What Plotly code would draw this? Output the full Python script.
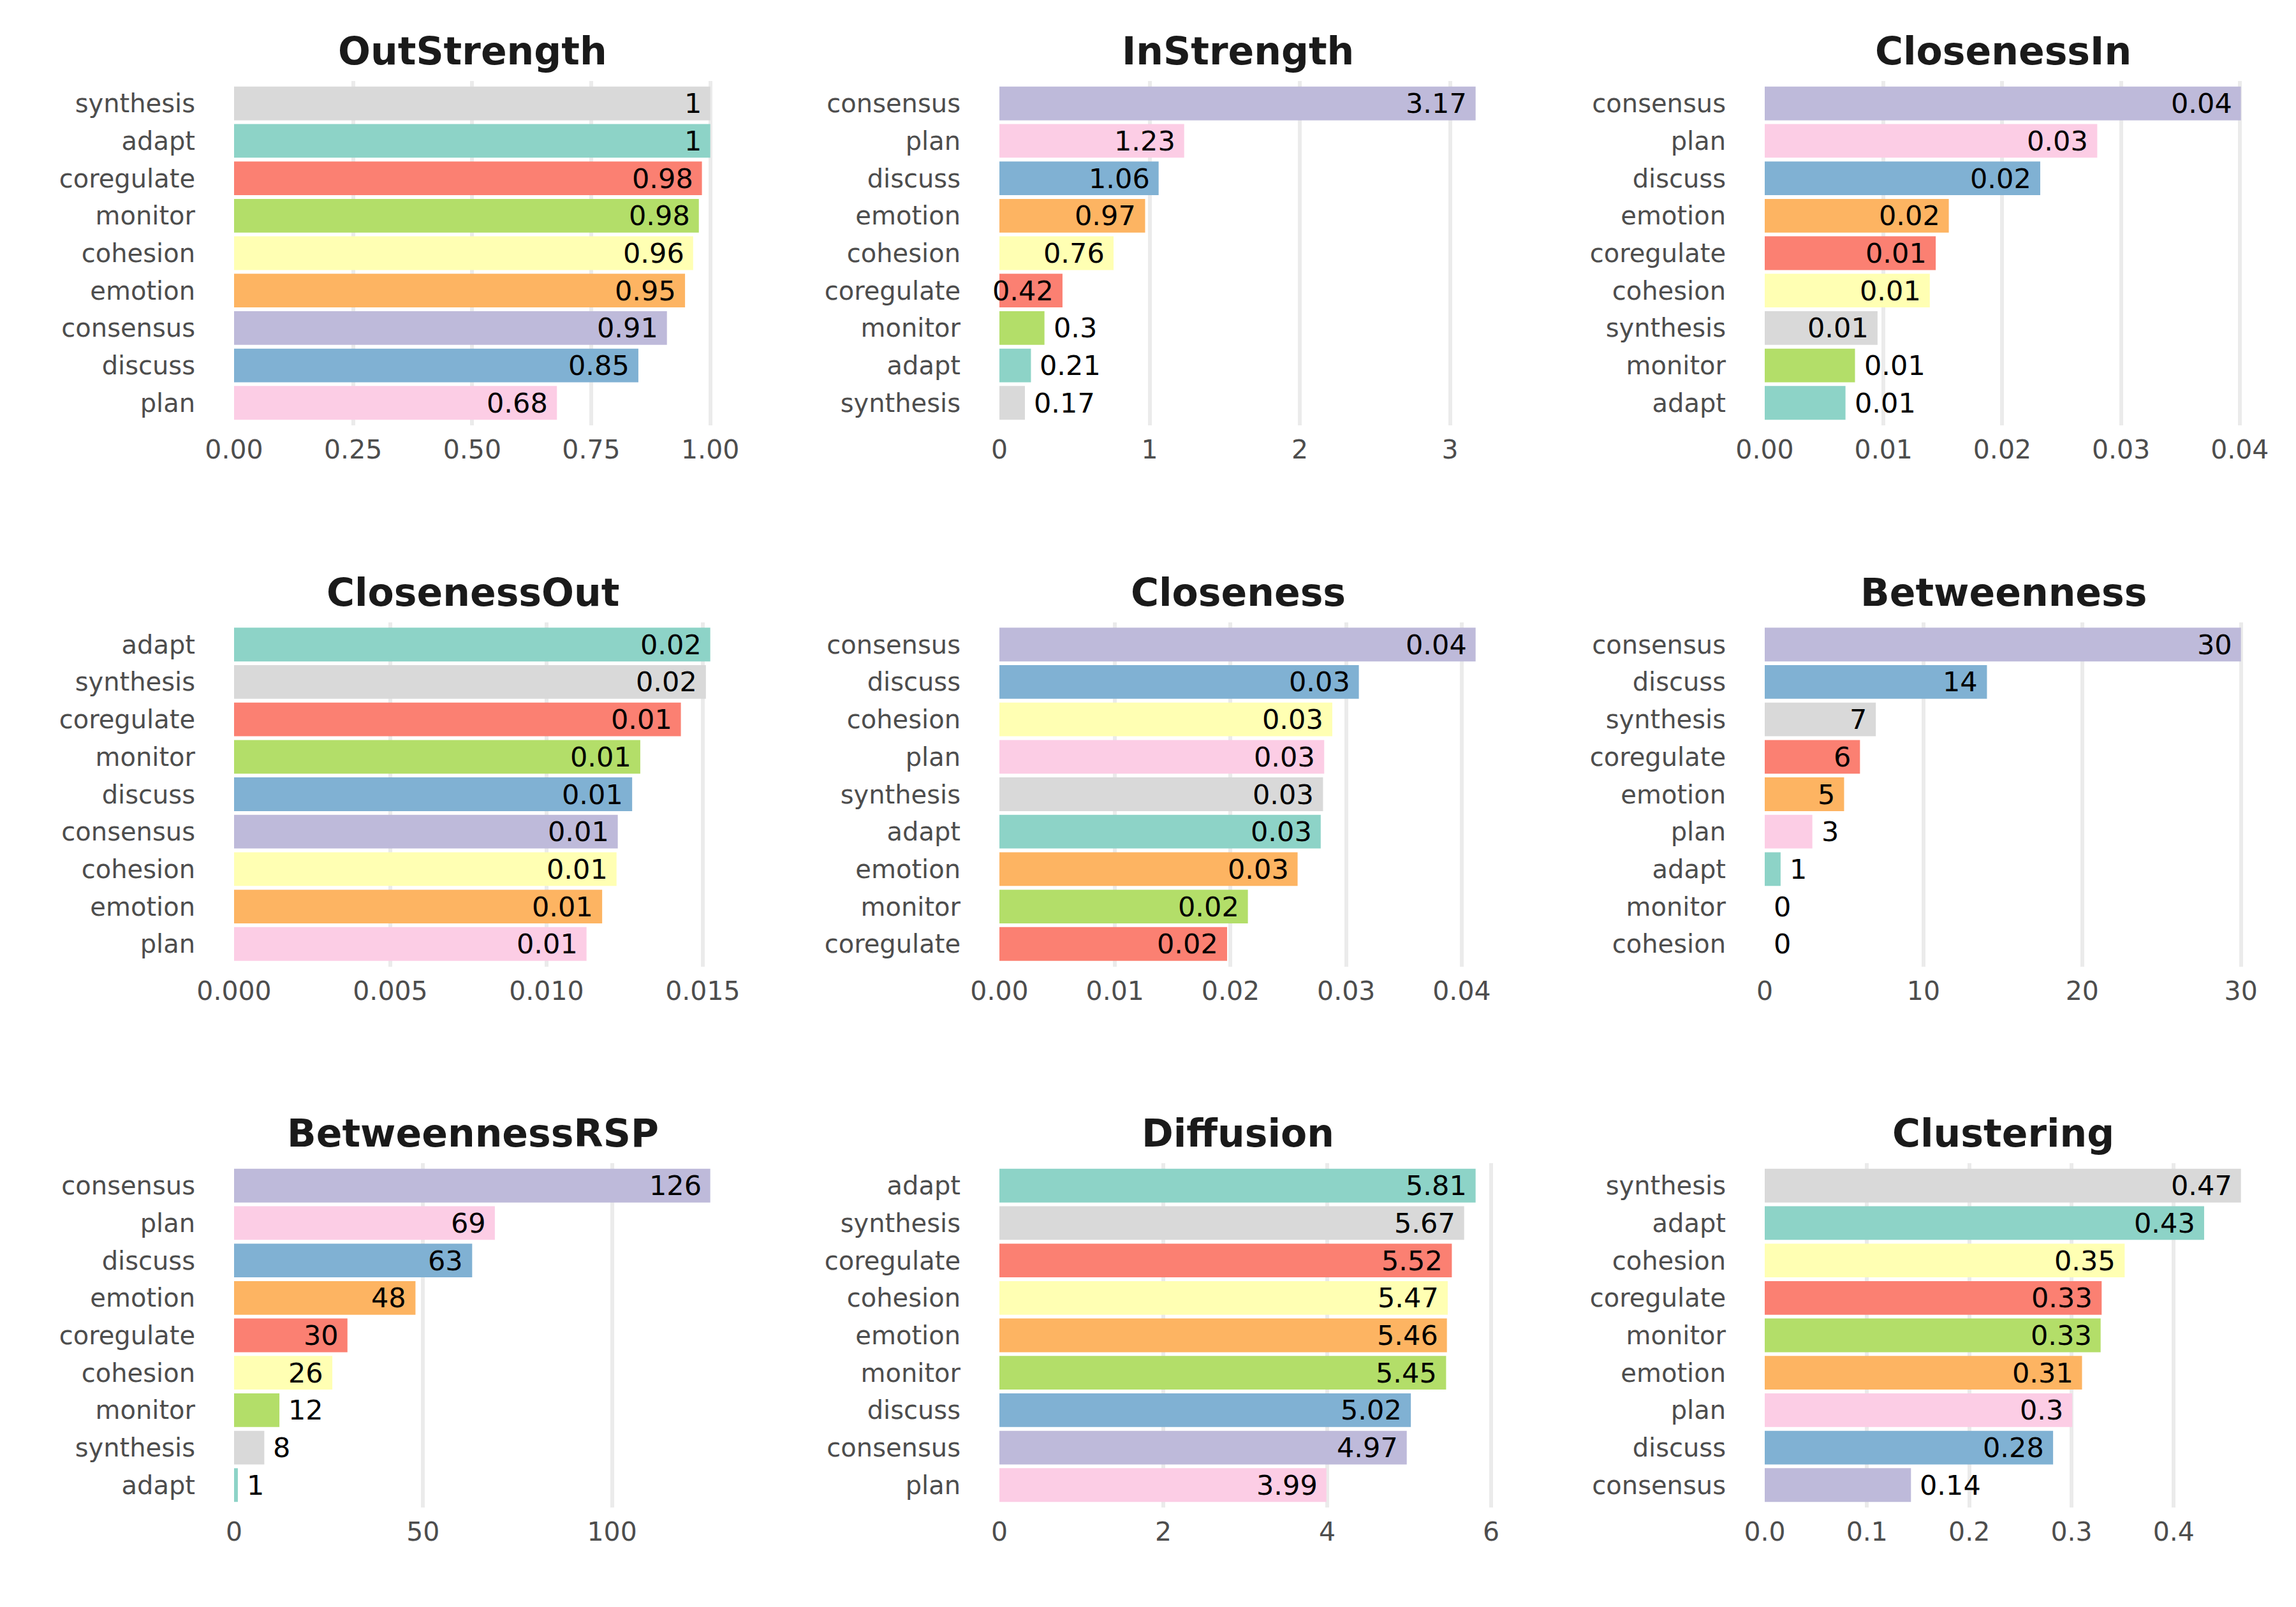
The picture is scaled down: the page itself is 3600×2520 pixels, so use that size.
import plotly.graph_objects as go

# node colours (ColorBrewer Set3)
node_colors = {
    "adapt": "#8DD3C7",
    "cohesion": "#FFFFB3",
    "consensus": "#BEBADA",
    "coregulate": "#FB8072",
    "discuss": "#80B1D3",
    "emotion": "#FDB462",
    "monitor": "#B3DE69",
    "plan": "#FCCDE5",
    "synthesis": "#D9D9D9",
}

# --- data, one panel per centrality measure (top to bottom order) ---
out_strength_nodes = ["synthesis", "adapt", "coregulate", "monitor", "cohesion",
                      "emotion", "consensus", "discuss", "plan"]
out_strength_values = [1.0, 1.0, 0.9825, 0.976, 0.964, 0.947, 0.909, 0.849, 0.678]
out_strength_ticks = [0, 0.25, 0.5, 0.75, 1.0]
out_strength_ticktext = ["0.00", "0.25", "0.50", "0.75", "1.00"]

in_strength_nodes = ["consensus", "plan", "discuss", "emotion", "cohesion",
                     "coregulate", "monitor", "adapt", "synthesis"]
in_strength_values = [3.17, 1.23, 1.06, 0.97, 0.76, 0.42, 0.30, 0.21, 0.17]
in_strength_ticks = [0, 1, 2, 3]
in_strength_ticktext = ["0", "1", "2", "3"]

closeness_in_nodes = ["consensus", "plan", "discuss", "emotion", "coregulate",
                      "cohesion", "synthesis", "monitor", "adapt"]
closeness_in_values = [0.0401, 0.0280, 0.0232, 0.0155, 0.0144, 0.0139, 0.0095, 0.0076, 0.0068]
closeness_in_ticks = [0, 0.01, 0.02, 0.03, 0.04]
closeness_in_ticktext = ["0.00", "0.01", "0.02", "0.03", "0.04"]

closeness_out_nodes = ["adapt", "synthesis", "coregulate", "monitor", "discuss",
                       "consensus", "cohesion", "emotion", "plan"]
closeness_out_values = [0.01524, 0.0151, 0.0143, 0.0130, 0.01274, 0.01228, 0.01224, 0.01178, 0.01128]
closeness_out_ticks = [0, 0.005, 0.01, 0.015]
closeness_out_ticktext = ["0.000", "0.005", "0.010", "0.015"]

closeness_nodes = ["consensus", "discuss", "cohesion", "plan", "synthesis",
                   "adapt", "emotion", "monitor", "coregulate"]
closeness_values = [0.0412, 0.0311, 0.0288, 0.0281, 0.0280, 0.0278, 0.0258, 0.0215, 0.0197]
closeness_ticks = [0, 0.01, 0.02, 0.03, 0.04]
closeness_ticktext = ["0.00", "0.01", "0.02", "0.03", "0.04"]

betweenness_nodes = ["consensus", "discuss", "synthesis", "coregulate", "emotion",
                     "plan", "adapt", "monitor", "cohesion"]
betweenness_values = [30, 14, 7, 6, 5, 3, 1, 0, 0]
betweenness_ticks = [0, 10, 20, 30]
betweenness_ticktext = ["0", "10", "20", "30"]

betweenness_rsp_nodes = ["consensus", "plan", "discuss", "emotion", "coregulate",
                         "cohesion", "monitor", "synthesis", "adapt"]
betweenness_rsp_values = [126, 69, 63, 48, 30, 26, 12, 8, 1]
betweenness_rsp_ticks = [0, 50, 100]
betweenness_rsp_ticktext = ["0", "50", "100"]

diffusion_nodes = ["adapt", "synthesis", "coregulate", "cohesion", "emotion",
                   "monitor", "discuss", "consensus", "plan"]
diffusion_values = [5.81, 5.67, 5.52, 5.47, 5.46, 5.45, 5.02, 4.97, 3.99]
diffusion_ticks = [0, 2, 4, 6]
diffusion_ticktext = ["0", "2", "4", "6"]

clustering_nodes = ["synthesis", "adapt", "cohesion", "coregulate", "monitor",
                    "emotion", "plan", "discuss", "consensus"]
clustering_values = [0.4657, 0.4297, 0.352, 0.3295, 0.3285, 0.3103, 0.3007, 0.282, 0.143]
clustering_ticks = [0, 0.1, 0.2, 0.3, 0.4]
clustering_ticktext = ["0.0", "0.1", "0.2", "0.3", "0.4"]

panels = [
    ("OutStrength", out_strength_nodes, out_strength_values, out_strength_ticks, out_strength_ticktext),
    ("InStrength", in_strength_nodes, in_strength_values, in_strength_ticks, in_strength_ticktext),
    ("ClosenessIn", closeness_in_nodes, closeness_in_values, closeness_in_ticks, closeness_in_ticktext),
    ("ClosenessOut", closeness_out_nodes, closeness_out_values, closeness_out_ticks, closeness_out_ticktext),
    ("Closeness", closeness_nodes, closeness_values, closeness_ticks, closeness_ticktext),
    ("Betweenness", betweenness_nodes, betweenness_values, betweenness_ticks, betweenness_ticktext),
    ("BetweennessRSP", betweenness_rsp_nodes, betweenness_rsp_values, betweenness_rsp_ticks, betweenness_rsp_ticktext),
    ("Diffusion", diffusion_nodes, diffusion_values, diffusion_ticks, diffusion_ticktext),
    ("Clustering", clustering_nodes, clustering_values, clustering_ticks, clustering_ticktext),
]

# how many of the smallest bars get their label outside the bar
n_outside = [0, 3, 2, 0, 0, 4, 3, 0, 1]

W, H = 3600, 2520
FONT = "DejaVu Sans"
TICK_COLOR = "#4D4D4D"
OFFSET = 8  # page body margin


def fmt(v):
    return f"{round(v, 2):g}"


fig = go.Figure()
annotations = []

for i, (title, nodes, values, ticks, ticktext) in enumerate(panels):
    row, col = divmod(i, 3)
    suffix = "" if i == 0 else str(i + 1)
    left = 1200 * col + 367 - OFFSET
    right = left + 784
    top = 127 - OFFSET + 848.5 * row
    bottom = top + 540

    fig.add_trace(go.Bar(
        x=values, y=nodes, orientation="h",
        marker=dict(color=[node_colors[n] for n in nodes], line=dict(width=0)),
        width=0.9, showlegend=False, hoverinfo="x+y",
        xaxis="x" + suffix, yaxis="y" + suffix,
    ))

    fig.update_layout({
        "xaxis" + suffix: dict(
            domain=[left / W, right / W],
            range=[0, max(values) * 1.05],
            anchor="y" + suffix,
            tickvals=ticks, ticktext=ticktext,
            showgrid=True, gridcolor="#EBEBEB", gridwidth=6,
            zeroline=False, showline=False, ticks="",
            ticklabelstandoff=10, automargin=False,
            tickfont=dict(family=FONT, size=41, color=TICK_COLOR),
        ),
        "yaxis" + suffix: dict(
            domain=[1 - bottom / H, 1 - top / H],
            anchor="x" + suffix,
            type="category",
            categoryorder="array", categoryarray=nodes,
            range=[len(nodes) - 0.4, -0.6],
            showgrid=False, zeroline=False, showline=False, ticks="",
            ticklabelstandoff=60, automargin=False,
            tickfont=dict(family=FONT, size=40, color=TICK_COLOR),
        ),
    })

    annotations.append(dict(
        text=f"<b>{title}</b>", xref="paper", yref="paper",
        x=(left + 374) / W, y=1 - (top - 47) / H,
        xanchor="center", yanchor="middle", showarrow=False,
        font=dict(family=FONT, size=60, color="#1A1A1A"),
    ))

    k = len(values) - n_outside[i]
    for j, (n, v) in enumerate(zip(nodes, values)):
        inside = j < k
        annotations.append(dict(
            text=fmt(v), x=v, y=n,
            xref="x" + suffix, yref="y" + suffix,
            xanchor="right" if inside else "left",
            xshift=-12 if inside else 12,
            yanchor="middle", showarrow=False,
            font=dict(family=FONT, size=43, color="#000000"),
        ))

fig.update_layout(
    width=W, height=H, autosize=False,
    margin=dict(l=0, r=0, t=0, b=0, pad=0, autoexpand=False),
    paper_bgcolor="white", plot_bgcolor="white",
    annotations=annotations,
    bargap=0.1,
)

fig.write_html("out.html")
